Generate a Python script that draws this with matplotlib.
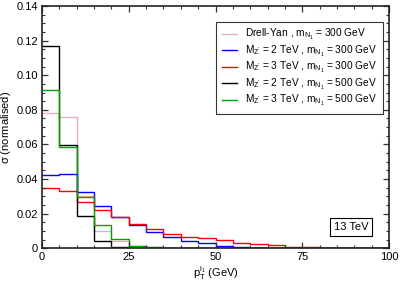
import matplotlib
matplotlib.use("Agg")
import matplotlib.pyplot as plt
import numpy as np
from matplotlib.ticker import MultipleLocator, FixedLocator, FixedFormatter

plt.rcParams['font.family'] = ['Liberation Sans', 'DejaVu Sans']
plt.rcParams['mathtext.fontset'] = 'custom'
plt.rcParams['mathtext.rm'] = 'Liberation Sans'
plt.rcParams['mathtext.it'] = 'Liberation Sans:italic'
plt.rcParams['mathtext.sf'] = 'Liberation Sans'

# bin edges (GeV), 5 GeV bins from 0 to 100
bin_edges = np.arange(0, 105, 5)

dy_300 = [0.0784, 0.0757, 0.0300, 0.0102, 0.0040, 0.0015, 0.0006, 0.0003, 0.0002, 0.0001,
          0.0001, 0.0001, 0.0, 0.0, 0.0, 0.0, 0.0, 0.0, 0.0, 0.0]
z2_300 = [0.0425, 0.0428, 0.0325, 0.0243, 0.0183, 0.0135, 0.0094, 0.0065, 0.0042, 0.0029,
          0.0016, 0.0008, 0.0004, 0.0002, 0.0001, 0.0001, 0.0, 0.0, 0.0, 0.0]
z3_300 = [0.0347, 0.0331, 0.0270, 0.0220, 0.0180, 0.0142, 0.0112, 0.0085, 0.0068, 0.0057,
          0.0046, 0.0032, 0.0024, 0.0019, 0.0010, 0.0005, 0.0003, 0.0002, 0.0001, 0.0001]
z2_500 = [0.1170, 0.0599, 0.0188, 0.0045, 0.0005, 0.0003, 0.0002, 0.0002, 0.0002, 0.0002,
          0.0002, 0.0001, 0.0001, 0.0001, 0.0001, 0.0, 0.0, 0.0, 0.0, 0.0]
z3_500 = [0.0913, 0.0587, 0.0296, 0.0135, 0.0055, 0.0015, 0.0005, 0.0003, 0.0001, 0.0001,
          0.0, 0.0, 0.0, 0.0, 0.0, 0.0, 0.0, 0.0, 0.0, 0.0]

series = [
    (dy_300, '#e0b4b4', r'Drell-Yan , m$_{\mathregular{N_1}}$ = 300 GeV'),
    (z2_300, '#0000ff', r'M$_{\mathregular{Z^{\prime}}}$ = 2 TeV , m$_{\mathregular{N_1}}$ = 300 GeV'),
    (z3_300, '#ff0000', r'M$_{\mathregular{Z^{\prime}}}$ = 3 TeV , m$_{\mathregular{N_1}}$ = 300 GeV'),
    (z2_500, '#000000', r'M$_{\mathregular{Z^{\prime}}}$ = 2 TeV , m$_{\mathregular{N_1}}$ = 500 GeV'),
    (z3_500, '#00a000', r'M$_{\mathregular{Z^{\prime}}}$ = 3 TeV , m$_{\mathregular{N_1}}$ = 500 GeV'),
]

x_ticks = [0, 25, 50, 75, 100]
x_ticklabels = ['0', '25', '50', '75', '100']
y_ticks = [0, 0.02, 0.04, 0.06, 0.08, 0.10, 0.12, 0.14]
y_ticklabels = ['0', '0.02', '0.04', '0.06', '0.08', '0.10', '0.12', '0.14']

fig = plt.figure(figsize=(4.0, 2.84), dpi=100)
ax = fig.add_axes([0.105, 0.1257, 0.8675, 0.8533])

handles = []
for vals, col, lab in series:
    ax.stairs(vals, bin_edges, baseline=None, color=col, linewidth=1.0)
    h, = ax.plot([], [], color=col, linewidth=1.0, label=lab)
    handles.append(h)

ax.set_xlim(0, 100)
ax.set_ylim(0, 0.14)
ax.xaxis.set_major_locator(FixedLocator(x_ticks))
ax.xaxis.set_major_formatter(FixedFormatter(x_ticklabels))
ax.yaxis.set_major_locator(FixedLocator(y_ticks))
ax.yaxis.set_major_formatter(FixedFormatter(y_ticklabels))
ax.xaxis.set_minor_locator(MultipleLocator(5))
ax.yaxis.set_minor_locator(MultipleLocator(0.005))
ax.tick_params(which='both', direction='in', top=True, right=True, labelsize=8, color='#333333')
ax.tick_params(which='major', length=4, width=0.9, pad=3)
ax.tick_params(which='minor', length=2, width=0.8)
for s in ax.spines.values():
    s.set_linewidth(1.2)
    s.set_color('#222222')

ax.set_xlabel(r'p$_{\mathregular{T}}^{\mathregular{l_1}}$ (GeV)', fontsize=8, labelpad=1)
ax.set_ylabel(r'$\mathregular{\sigma}$ (normalised)', fontsize=8)
ax.yaxis.set_label_coords(-0.084, 0.5)

leg = ax.legend(handles=handles, loc='upper right', bbox_to_anchor=(0.982, 0.935),
                fontsize=7.3, frameon=True, fancybox=False, handlelength=1.5,
                handletextpad=0.8, labelspacing=0.14, borderpad=0.55, borderaxespad=0)
leg.get_frame().set_edgecolor('black')
leg.get_frame().set_linewidth(0.8)

ax.text(0.89, 0.089, '13 TeV', transform=ax.transAxes, fontsize=8, ha='center', va='center',
        bbox=dict(boxstyle='square,pad=0.35', fc='white', ec='black', lw=0.8))

fig.savefig('out.png', dpi=100)
